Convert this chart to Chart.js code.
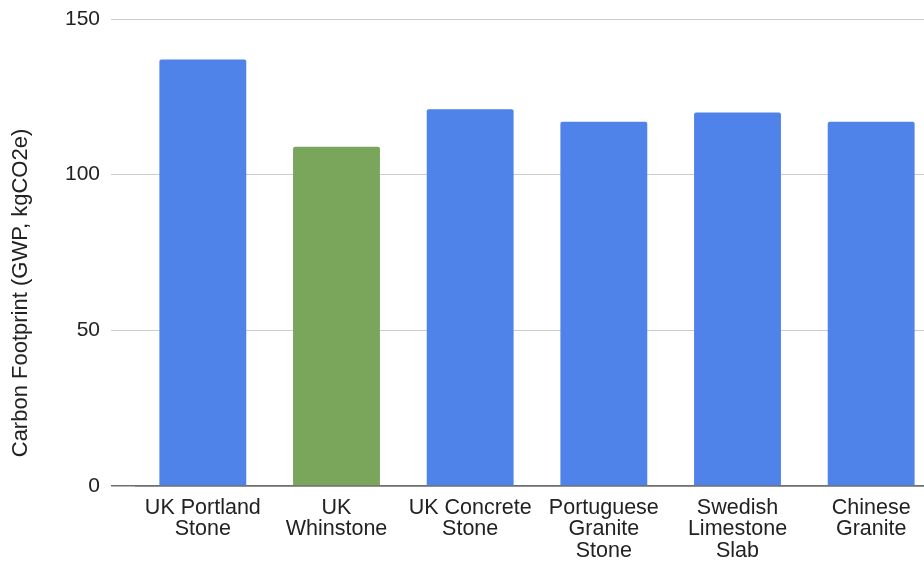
<!DOCTYPE html>
<html>
<head>
<meta charset="utf-8">
<script src="https://cdn.jsdelivr.net/npm/chart.js@4/dist/chart.umd.min.js"></script>
<style>
  html, body { margin: 0; padding: 0; overflow: hidden; background: #fff; }
  #wrap { position: relative; width: 938px; height: 561px; }
</style>
</head>
<body>
<div id="wrap"><canvas id="stoneChart"></canvas></div>
<script>
// categories (multi-line labels as on the picture)
const categories = [
    ['UK Portland', 'Stone'],
    ['UK', 'Whinstone'],
    ['UK Concrete', 'Stone'],
    ['Portuguese', 'Granite', 'Stone'],
    ['Swedish', 'Limestone', 'Slab'],
    ['Chinese', 'Granite']
];
// GWP per category, kgCO2e
const footprint = [137, 109, 121, 117, 120, 117];
const yTicks = [0, 50, 100, 150];
const yTitle = 'Carbon Footprint (GWP, kgCO2e)';

const FONT = '"Liberation Sans", Arial, sans-serif';
const BLUE = '#4f83ea';
const GREEN = '#79a65b';

// y title drawn at a fixed spot, centred on the whole picture like the original
const yTitlePlugin = {
    id: 'yTitlePlugin',
    afterDraw(chart) {
        const ctx = chart.ctx;
        ctx.save();
        ctx.translate(21, 293);
        ctx.rotate(-Math.PI / 2);
        ctx.font = '22px ' + FONT;
        ctx.fillStyle = '#222';
        ctx.textAlign = 'center';
        ctx.textBaseline = 'middle';
        ctx.fillText(yTitle, 0, 0);
        ctx.restore();
    }
};

new Chart(document.getElementById('stoneChart'), {
    type: 'bar',
    data: {
        labels: categories,
        datasets: [{
            data: footprint,
            backgroundColor: footprint.map((v, i) => i === 1 ? GREEN : BLUE),
            borderRadius: 2,
            barPercentage: 0.65,
            categoryPercentage: 1.0
        }]
    },
    options: {
        responsive: true,
        maintainAspectRatio: false,
        animation: false,
        layout: { padding: { top: 19, left: 0, right: 0, bottom: 0 } },
        plugins: {
            legend: { display: false },
            tooltip: { enabled: false }
        },
        scales: {
            x: {
                offset: true,
                grid: { display: false },
                border: { display: true, color: '#6f6f6f', width: 1.5 },
                ticks: {
                    color: '#222',
                    padding: 3,
                    maxRotation: 0,
                    autoSkip: false,
                    font: { family: FONT, size: 21.5, lineHeight: 1.01 }
                },
                afterFit(scale) { scale.height = 75; }
            },
            y: {
                min: 0,
                max: 150,
                afterBuildTicks(scale) { scale.ticks = yTicks.map(v => ({ value: v })); },
                border: { display: false },
                grid: {
                    color: ctx => ctx.tick && ctx.tick.value === 0 ? '#6f6f6f' : '#cccccc',
                    tickColor: ctx => ctx.tick && ctx.tick.value === 0 ? '#6f6f6f' : '#cccccc',
                    lineWidth: ctx => ctx.tick && ctx.tick.value === 0 ? 1.5 : 1,
                    drawTicks: true,
                    tickLength: 25
                },
                ticks: {
                    color: '#222',
                    padding: 11,
                    font: { family: FONT, size: 21, lineHeight: 0.5 }
                },
                afterFit(scale) { scale.width = 136; }
            }
        }
    },
    plugins: [yTitlePlugin]
});
</script>
</body>
</html>
